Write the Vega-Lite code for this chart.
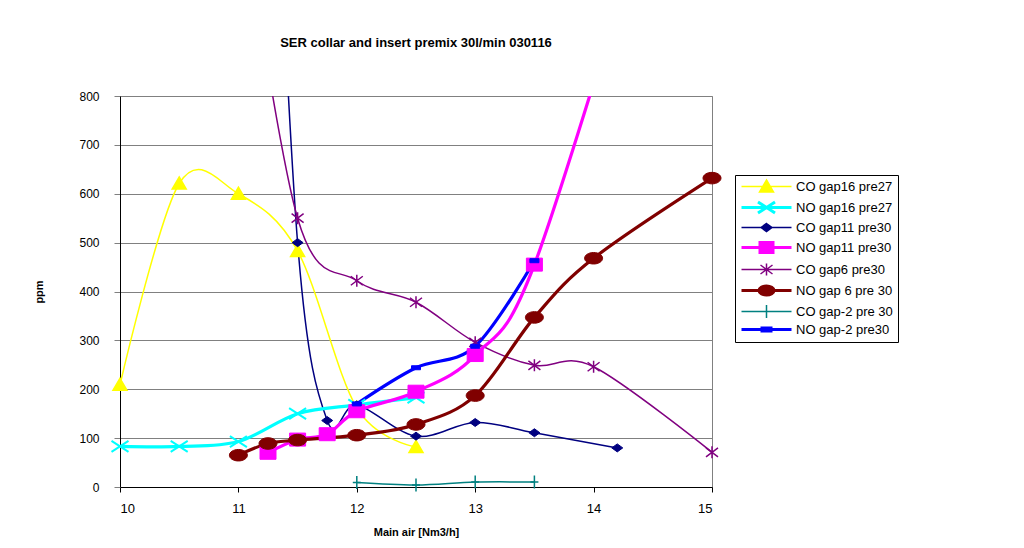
{
  "$schema": "https://vega.github.io/schema/vega-lite/v6.json",
  "width": 592,
  "height": 391,
  "autosize": {"type": "none"},
  "padding": {"left": 120, "top": 96, "right": 312, "bottom": 61},
  "background": "white",
  "title": {
    "text": "SER collar and insert premix 30l/min 030116",
    "font": "Liberation Sans",
    "fontSize": 13,
    "fontWeight": "bold",
    "color": "black",
    "anchor": "middle",
    "offset": 40
  },
  "config": {
    "font": "Liberation Sans",
    "view": {"stroke": "#808080", "strokeWidth": 1}
  },
  "data": {
    "values": [
      {"series": "CO gap16 pre27", "air": 10, "ppm": 209},
      {"series": "CO gap16 pre27", "air": 10.5, "ppm": 621},
      {"series": "CO gap16 pre27", "air": 11, "ppm": 600},
      {"series": "CO gap16 pre27", "air": 11.5, "ppm": 483},
      {"series": "CO gap16 pre27", "air": 12, "ppm": 162},
      {"series": "CO gap16 pre27", "air": 12.5, "ppm": 82},
      {"series": "NO gap16 pre27", "air": 10, "ppm": 83},
      {"series": "NO gap16 pre27", "air": 10.5, "ppm": 83},
      {"series": "NO gap16 pre27", "air": 11, "ppm": 93},
      {"series": "NO gap16 pre27", "air": 11.5, "ppm": 150},
      {"series": "NO gap16 pre27", "air": 12, "ppm": 168},
      {"series": "NO gap16 pre27", "air": 12.5, "ppm": 183},
      {"series": "CO gap11 pre30", "air": 11.25, "ppm": 1650},
      {"series": "CO gap11 pre30", "air": 11.5, "ppm": 500},
      {"series": "CO gap11 pre30", "air": 11.75, "ppm": 136},
      {"series": "CO gap11 pre30", "air": 12, "ppm": 168},
      {"series": "CO gap11 pre30", "air": 12.5, "ppm": 104},
      {"series": "CO gap11 pre30", "air": 13, "ppm": 132},
      {"series": "CO gap11 pre30", "air": 13.5, "ppm": 111},
      {"series": "CO gap11 pre30", "air": 14.2, "ppm": 80},
      {"series": "NO gap11 pre30", "air": 11.25, "ppm": 70},
      {"series": "NO gap11 pre30", "air": 11.5, "ppm": 97},
      {"series": "NO gap11 pre30", "air": 11.75, "ppm": 108},
      {"series": "NO gap11 pre30", "air": 12, "ppm": 155},
      {"series": "NO gap11 pre30", "air": 12.5, "ppm": 195},
      {"series": "NO gap11 pre30", "air": 13, "ppm": 270},
      {"series": "NO gap11 pre30", "air": 13.5, "ppm": 455},
      {"series": "NO gap11 pre30", "air": 14.5, "ppm": 1225},
      {"series": "CO gap6 pre30", "air": 11, "ppm": 1245},
      {"series": "CO gap6 pre30", "air": 11.5, "ppm": 550},
      {"series": "CO gap6 pre30", "air": 12, "ppm": 422},
      {"series": "CO gap6 pre30", "air": 12.5, "ppm": 378},
      {"series": "CO gap6 pre30", "air": 13, "ppm": 296},
      {"series": "CO gap6 pre30", "air": 13.5, "ppm": 249},
      {"series": "CO gap6 pre30", "air": 14, "ppm": 246},
      {"series": "CO gap6 pre30", "air": 15, "ppm": 71},
      {"series": "NO gap 6 pre 30", "air": 11, "ppm": 65},
      {"series": "NO gap 6 pre 30", "air": 11.25, "ppm": 89},
      {"series": "NO gap 6 pre 30", "air": 11.5, "ppm": 96},
      {"series": "NO gap 6 pre 30", "air": 12, "ppm": 106},
      {"series": "NO gap 6 pre 30", "air": 12.5, "ppm": 128},
      {"series": "NO gap 6 pre 30", "air": 13, "ppm": 187},
      {"series": "NO gap 6 pre 30", "air": 13.5, "ppm": 347},
      {"series": "NO gap 6 pre 30", "air": 14, "ppm": 468},
      {"series": "NO gap 6 pre 30", "air": 15, "ppm": 632},
      {"series": "CO gap-2 pre 30", "air": 12, "ppm": 9},
      {"series": "CO gap-2 pre 30", "air": 12.5, "ppm": 4},
      {"series": "CO gap-2 pre 30", "air": 13, "ppm": 10},
      {"series": "CO gap-2 pre 30", "air": 13.5, "ppm": 10},
      {"series": "NO gap-2 pre30", "air": 12, "ppm": 170},
      {"series": "NO gap-2 pre30", "air": 12.5, "ppm": 244},
      {"series": "NO gap-2 pre30", "air": 13, "ppm": 288},
      {"series": "NO gap-2 pre30", "air": 13.5, "ppm": 463}
    ]
  },
  "encoding": {
    "x": {
      "field": "air",
      "type": "quantitative",
      "scale": {"domain": [10, 15], "nice": false, "zero": false},
      "axis": {
        "title": "Main air [Nm3/h]",
        "values": [10, 11, 12, 13, 14, 15],
        "format": "d",
        "grid": false,
        "domainColor": "black",
        "tickColor": "black",
        "tickSize": 5,
        "labelFontSize": 13,
        "labelColor": "black",
        "labelPadding": 10,
        "titleFontSize": 11,
        "titleFontWeight": "bold",
        "titleColor": "black",
        "titlePadding": 11
      }
    },
    "y": {
      "field": "ppm",
      "type": "quantitative",
      "scale": {"domain": [0, 800], "nice": false},
      "axis": {
        "title": "ppm",
        "values": [0, 100, 200, 300, 400, 500, 600, 700, 800],
        "grid": true,
        "gridColor": "#808080",
        "gridOpacity": 1,
        "gridWidth": 1,
        "domainColor": "black",
        "tickColor": "#808080",
        "tickSize": 6,
        "labelFontSize": 12,
        "labelColor": "black",
        "labelPadding": 15,
        "titleFontSize": 11,
        "titleFontWeight": "bold",
        "titleColor": "black",
        "titlePadding": 34
      }
    }
  },
  "layer": [
    {
      "transform": [{"filter": {"field": "series", "oneOf": ["CO gap16 pre27", "CO gap11 pre30", "CO gap6 pre30", "CO gap-2 pre 30"]}}],
      "mark": {"type": "line", "interpolate": "cardinal", "tension": 0, "strokeWidth": 1.5, "clip": true},
      "encoding": {
        "color": {
          "field": "series",
          "type": "nominal",
          "scale": {
            "domain": ["CO gap16 pre27", "NO gap16 pre27", "CO gap11 pre30", "NO gap11 pre30", "CO gap6 pre30", "NO gap 6 pre 30", "CO gap-2 pre 30", "NO gap-2 pre30"],
            "range": ["#FFFF00", "#00FFFF", "#000080", "#FF00FF", "#800080", "#800000", "#008080", "#0000FF"]
          },
          "legend": {
            "title": null,
            "orient": "none",
            "legendX": 615,
            "legendY": 79,
            "strokeColor": "black",
            "fillColor": "white",
            "padding": 5,
            "symbolSize": 100,
            "symbolOffset": 20,
            "labelOffset": 23,
            "rowPadding": 1,
            "labelFont": "Liberation Sans",
            "labelFontSize": 13,
            "labelColor": "black",
            "labelLimit": 300,
            "encode": {
              "symbols": {
                "update": {
                  "shape": {"signal": "'M-5,0L5,0' + (datum.value == 'CO gap16 pre27' ? 'M0,-1.3L1.4,1.1L-1.4,1.1Z' : datum.value == 'NO gap16 pre27' ? 'M-1.7,-1.1L1.7,1.1M-1.7,1.1L1.7,-1.1' : datum.value == 'CO gap11 pre30' ? 'M0,-0.8L1.1,0L0,0.8L-1.1,0Z' : datum.value == 'NO gap11 pre30' ? 'M-1.3,-1L1.3,-1L1.3,1L-1.3,1Z' : datum.value == 'CO gap6 pre30' ? 'M-1.2,-0.9L1.2,0.9M-1.2,0.9L1.2,-0.9M0,-1.2L0,1.2' : datum.value == 'NO gap 6 pre 30' ? 'M-1.5,0A1.5,0.9 0 1,0 1.5,0A1.5,0.9 0 1,0 -1.5,0Z' : datum.value == 'CO gap-2 pre 30' ? 'M-0.8,0L0.8,0M0,-1.3L0,1.3' : 'M-0.9,-0.3L0.9,-0.3L0.9,0.3L-0.9,0.3Z')"},
                  "fill": {"scale": "color", "field": "value"},
                  "stroke": {"scale": "color", "field": "value"},
                  "strokeWidth": {"signal": "substring(datum.value, 0, 2) == 'NO' ? 3 : 1.5"},
                  "opacity": {"value": 1},
                  "fillOpacity": {"value": 1},
                  "size": {"value": 100}
                }
              }
            }
          }
        }
      }
    },
    {
      "transform": [{"filter": {"field": "series", "oneOf": ["NO gap16 pre27", "NO gap11 pre30", "NO gap 6 pre 30", "NO gap-2 pre30"]}}],
      "mark": {"type": "line", "interpolate": "cardinal", "tension": 0, "strokeWidth": 3.2, "clip": true},
      "encoding": {
        "color": {"field": "series", "type": "nominal"}
      }
    },
    {
      "transform": [{"filter": {"field": "series", "equal": "CO gap16 pre27"}}],
      "mark": {"type": "point", "filled": true, "size": 100, "opacity": 1, "strokeWidth": 1.5, "fill": "#FFFF00", "stroke": "#FFFF00", "shape": "M0,-1.3L1.4,1.1L-1.4,1.1Z"}
    },
    {
      "transform": [{"filter": {"field": "series", "equal": "NO gap16 pre27"}}],
      "mark": {"type": "point", "filled": true, "size": 100, "opacity": 1, "strokeWidth": 2, "fill": "#00FFFF", "stroke": "#00FFFF", "shape": "M-1.7,-1.1L1.7,1.1M-1.7,1.1L1.7,-1.1"}
    },
    {
      "transform": [{"filter": {"field": "series", "equal": "CO gap11 pre30"}}, {"filter": "datum.ppm <= 800"}],
      "mark": {"type": "point", "filled": true, "size": 100, "opacity": 1, "strokeWidth": 1, "fill": "#000080", "stroke": "#000080", "shape": "M0,-0.8L1.1,0L0,0.8L-1.1,0Z"}
    },
    {
      "transform": [{"filter": {"field": "series", "equal": "NO gap11 pre30"}}, {"filter": "datum.ppm <= 800"}],
      "mark": {"type": "point", "filled": true, "size": 100, "opacity": 1, "strokeWidth": 1, "fill": "#FF00FF", "stroke": "#FF00FF", "shape": "M-1.6,-1.3L1.6,-1.3L1.6,1.3L-1.6,1.3Z"}
    },
    {
      "transform": [{"filter": {"field": "series", "equal": "CO gap6 pre30"}}, {"filter": "datum.ppm <= 800"}],
      "mark": {"type": "point", "filled": true, "size": 100, "opacity": 1, "strokeWidth": 1.5, "fill": "#800080", "stroke": "#800080", "shape": "M-1.2,-0.9L1.2,0.9M-1.2,0.9L1.2,-0.9M0,-1.2L0,1.2"}
    },
    {
      "transform": [{"filter": {"field": "series", "equal": "NO gap 6 pre 30"}}],
      "mark": {"type": "point", "filled": true, "size": 100, "opacity": 1, "strokeWidth": 1, "fill": "#800000", "stroke": "#800000", "shape": "M-1.8,0A1.8,1.15 0 1,0 1.8,0A1.8,1.15 0 1,0 -1.8,0Z"}
    },
    {
      "transform": [{"filter": {"field": "series", "equal": "CO gap-2 pre 30"}}],
      "mark": {"type": "point", "filled": true, "size": 100, "opacity": 1, "strokeWidth": 1.5, "fill": "#008080", "stroke": "#008080", "shape": "M-0.8,0L0.8,0M0,-1.3L0,1.3"}
    },
    {
      "transform": [{"filter": {"field": "series", "equal": "NO gap-2 pre30"}}],
      "mark": {"type": "point", "filled": true, "size": 100, "opacity": 1, "strokeWidth": 1, "fill": "#0000FF", "stroke": "#0000FF", "shape": "M-0.9,-0.4L0.9,-0.4L0.9,0.4L-0.9,0.4Z"}
    }
  ]
}
